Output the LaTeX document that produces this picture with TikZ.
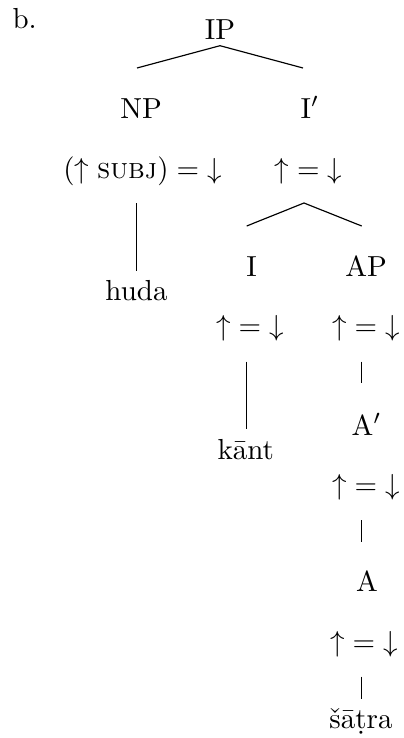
\documentclass[tikz,border=0pt]{standalone}
\begin{document}
\begin{tikzpicture}[x=0.345pt,y=-0.345pt,
  lbl/.style={anchor=base,inner sep=0pt,font=\normalsize},
  branch/.style={line width=0.4pt}]
\useasboundingbox (0,0) rectangle (403,738);

% example label
\node[lbl,anchor=base west] (ex) at (12,28) {b.};

% category nodes
\node[lbl] (IP)  at (220,39)    {IP};
\node[lbl] (NP)  at (141,118)   {NP};
\node[lbl] (Ibar) at (310,118)  {I$'$};
\node[lbl] (I)   at (251.5,276) {I};
\node[lbl] (AP)  at (366,276)   {AP};
\node[lbl] (Abar) at (366.5,435) {A$'$};
\node[lbl] (A)   at (367,591.7) {A};

% functional annotations
\node[lbl] (fNP)   at (142.5,178) {$(\uparrow\textsc{subj}) = {\downarrow}$};
\node[lbl] (fIbar) at (308.5,178) {$\uparrow{=}\downarrow$};
\node[lbl] (fI)    at (250,335)   {$\uparrow{=}\downarrow$};
\node[lbl] (fAP)   at (366,335)   {$\uparrow{=}\downarrow$};
\node[lbl] (fAbar) at (366,494)   {$\uparrow{=}\downarrow$};
\node[lbl] (fA)    at (364,651)   {$\uparrow{=}\downarrow$};

% words
\node[lbl] (huda)  at (136.5,300.7) {huda};
\node[lbl] (kant)  at (245.8,459)   {k\={a}nt};
\node[lbl] (satra) at (361,728)     {\v{s}\={a}\d{t}ra};

% branch end points
\coordinate (IPtop)   at (220,45.7);
\coordinate (NPend)   at (137,68);
\coordinate (Ibarend) at (303,68);
\coordinate (Ibtop)   at (304,203);
\coordinate (Iend)    at (246.7,226);
\coordinate (APend)   at (361.7,226);
\coordinate (hudaT)   at (136.7,203);
\coordinate (hudaB)   at (136.7,271);
\coordinate (kantT)   at (246.7,361.7);
\coordinate (kantB)   at (246.7,428.7);
\coordinate (APT)     at (361.7,361.7);
\coordinate (APB)     at (361.7,383.3);
\coordinate (AbT)     at (361.7,520);
\coordinate (AbB)     at (361.7,541.7);
\coordinate (AT)      at (361.3,676.7);
\coordinate (AB)      at (361.3,699);

% branches
\draw[branch] (NPend) -- (IPtop) -- (Ibarend);
\draw[branch] (Iend) -- (Ibtop) -- (APend);
\draw[branch] (hudaT) -- (hudaB);
\draw[branch] (kantT) -- (kantB);
\draw[branch] (APT) -- (APB);
\draw[branch] (AbT) -- (AbB);
\draw[branch] (AT) -- (AB);
\end{tikzpicture}
\end{document}
